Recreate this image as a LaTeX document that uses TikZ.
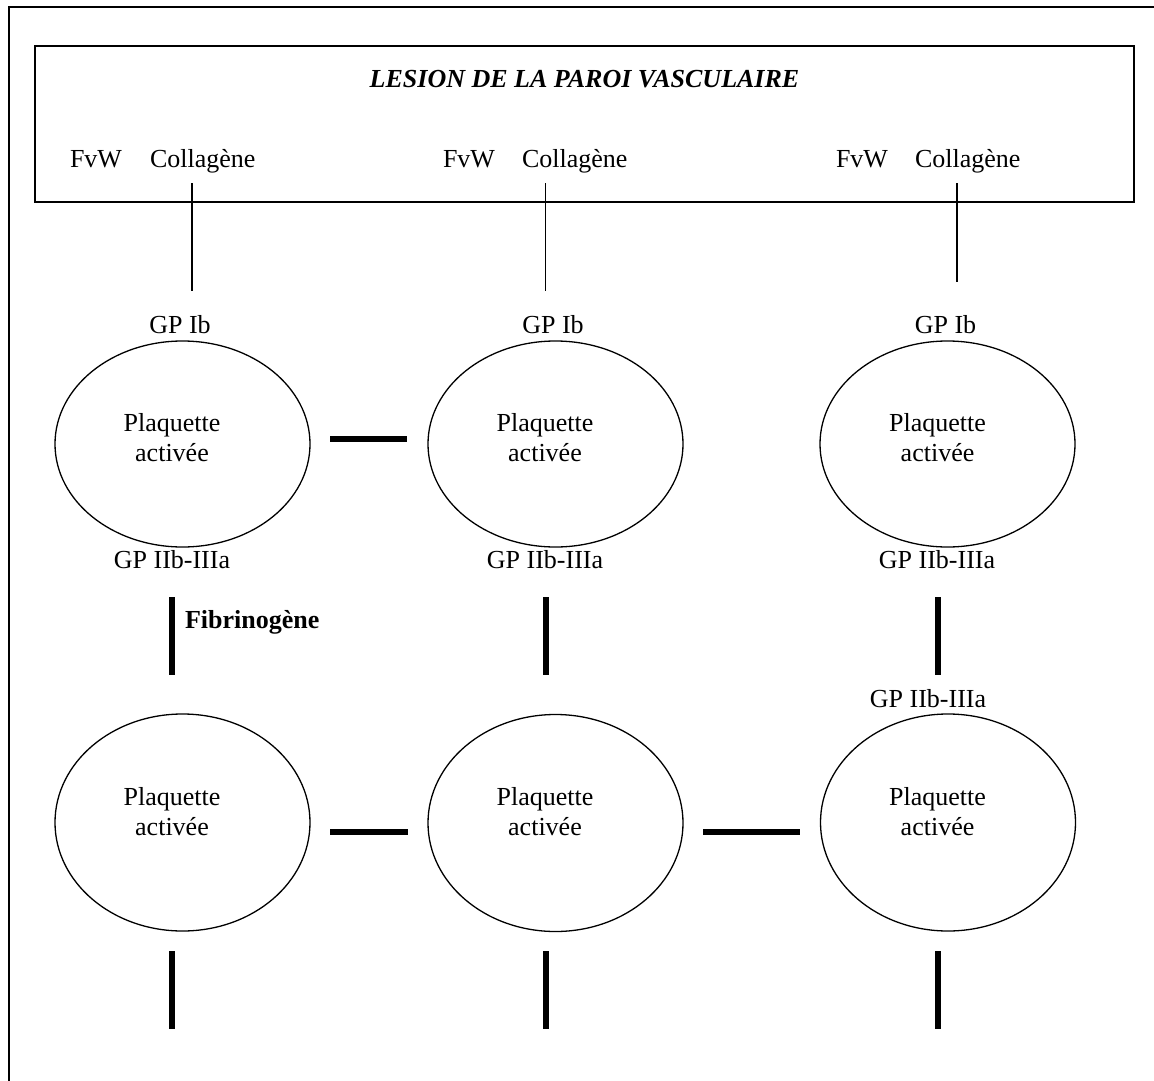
\documentclass[tikz,border=0pt]{standalone}
\usepackage{fontspec}
\setmainfont{Liberation Serif}
\usetikzlibrary{shapes.geometric}
\begin{document}
\begin{tikzpicture}[x=1pt,y=-1pt,
  txt/.style={font=\fontsize{26}{30}\selectfont, inner sep=0pt, outer sep=0pt, anchor=base},
  txtw/.style={txt, anchor=base west},
  inside/.style={font=\fontsize{26}{30}\selectfont, inner sep=0pt, outer sep=0pt, align=center, anchor=center},
  plt/.style={draw, ellipse, line width=1.3pt, minimum width=255pt, inner sep=0pt, outer sep=0pt},
  thin/.style={line width=1.3pt},
  bar/.style={line width=6.5pt, line cap=butt}]
\useasboundingbox (0,0) rectangle (1154,1081);
% outer frame (right and bottom sides lie outside the page)
\draw[line width=1.8pt] (9.3,1095) -- (9.3,7.3) -- (1165,7.3);
% lesion box
\node[draw, line width=2pt, minimum width=1099pt, minimum height=156.3pt, inner sep=0pt, outer sep=0pt, anchor=north west] (paroi) at (35,45.7) {};
\node[txt, font=\fontsize{26}{30}\selectfont\bfseries\itshape] (titre) at (584.5,88) {LESION DE LA PAROI VASCULAIRE};
\node[txtw] (fvw1) at (70,167) {FvW};
\node[txtw] (col1) at (150,167) {Collagène};
\node[txtw] (fvw2) at (443,167) {FvW};
\node[txtw] (col2) at (522,167) {Collagène};
\node[txtw] (fvw3) at (836,167) {FvW};
\node[txtw] (col3) at (915,167) {Collagène};
% GP Ib labels
\node[txt] (ib1) at (180,333) {GP Ib};
\node[txt] (ib2) at (553,333) {GP Ib};
\node[txt] (ib3) at (945.5,333) {GP Ib};
% thin links collagen -> GP Ib
\coordinate (t1a) at (192,183);   \coordinate (t1b) at (192,291);
\coordinate (t2a) at (545.5,183); \coordinate (t2b) at (545.5,291);
\coordinate (t3a) at (957,183);   \coordinate (t3b) at (957,282);
\draw[thin] (t1a) -- (t1b);
\draw[thin] (t2a) -- (t2b);
\draw[thin] (t3a) -- (t3b);
% upper platelets
\node[plt, minimum height=206pt] (pu1) at (182.5,444) {};
\node[plt, minimum height=206pt] (pu2) at (555.5,444) {};
\node[plt, minimum height=206pt] (pu3) at (947.5,444) {};
\node[inside] (pu1t) at (172,437.6) {Plaquette\\activée};
\node[inside] (pu2t) at (545,437.6) {Plaquette\\activée};
\node[inside] (pu3t) at (937.5,437.6) {Plaquette\\activée};
% GP IIb-IIIa labels
\node[txt] (g1) at (172,568.5) {GP IIb-IIIa};
\node[txt] (g2) at (545,568.5) {GP IIb-IIIa};
\node[txt] (g3) at (937,568.5) {GP IIb-IIIa};
\node[txt] (g3b) at (928,707) {GP IIb-IIIa};
\node[txtw, font=\fontsize{26}{30}\selectfont\bfseries] (fib) at (185,628) {Fibrinogène};
% lower platelets
\node[plt, minimum height=217pt] (pl1) at (182.5,822.5) {};
\node[plt, minimum height=217pt] (pl2) at (555.5,823) {};
\node[plt, minimum height=217pt] (pl3) at (948,822.5) {};
\node[inside] (pl1t) at (172,811.1) {Plaquette\\activée};
\node[inside] (pl2t) at (545,811.1) {Plaquette\\activée};
\node[inside] (pl3t) at (937.5,811.1) {Plaquette\\activée};
% thick bars
\coordinate (h1a) at (330,439);  \coordinate (h1b) at (407,439);
\coordinate (h2a) at (330,832);  \coordinate (h2b) at (408,832);
\coordinate (h3a) at (703,832);  \coordinate (h3b) at (800,832);
\draw[bar] (h1a) -- (h1b);
\draw[bar] (h2a) -- (h2b);
\draw[bar] (h3a) -- (h3b);
\coordinate (v1a) at (172,597);  \coordinate (v1b) at (172,675);
\coordinate (v2a) at (546,597);  \coordinate (v2b) at (546,675);
\coordinate (v3a) at (938,597);  \coordinate (v3b) at (938,675);
\draw[bar] (v1a) -- (v1b);
\draw[bar] (v2a) -- (v2b);
\draw[bar] (v3a) -- (v3b);
\coordinate (w1a) at (172,951);  \coordinate (w1b) at (172,1029);
\coordinate (w2a) at (546,951);  \coordinate (w2b) at (546,1029);
\coordinate (w3a) at (938,951);  \coordinate (w3b) at (938,1029);
\draw[bar] (w1a) -- (w1b);
\draw[bar] (w2a) -- (w2b);
\draw[bar] (w3a) -- (w3b);
\end{tikzpicture}
\end{document}
